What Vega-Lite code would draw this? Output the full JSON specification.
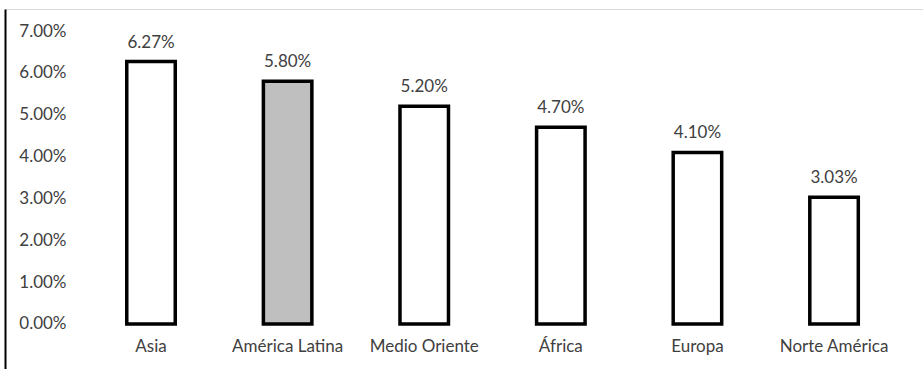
{
  "$schema": "https://vega.github.io/schema/vega-lite/v6.json",
  "width": 918,
  "height": 360,
  "autosize": {"type": "none"},
  "padding": {"left": 5, "top": 9, "right": 0, "bottom": 0},
  "background": "white",
  "config": {
    "view": {"stroke": null},
    "font": "Lato",
    "axis": {"labelFont": "Lato", "labelColor": "#404040", "labelFontSize": 17, "grid": false, "ticks": false, "title": null}
  },
  "data": {
    "values": [
      {"region": "Asia", "value": 0.0627},
      {"region": "América Latina", "value": 0.058},
      {"region": "Medio Oriente", "value": 0.052},
      {"region": "África", "value": 0.047},
      {"region": "Europa", "value": 0.041},
      {"region": "Norte América", "value": 0.0303}
    ]
  },
  "encoding": {
    "x": {
      "field": "region",
      "type": "nominal",
      "sort": null,
      "scale": {"paddingInner": 0.645, "paddingOuter": 0.6825, "align": 0.653}
    },
    "y": {
      "field": "value",
      "type": "quantitative",
      "scale": {"domain": [-0.010751, 0.075256], "nice": false, "zero": false}
    }
  },
  "layer": [
    {
      "mark": {"type": "bar", "stroke": "black", "strokeWidth": 3.5},
      "encoding": {
        "fill": {
          "condition": {"test": "datum.region === 'América Latina'", "value": "#bfbfbf"},
          "value": "white"
        },
        "x": {
          "field": "region", "type": "nominal", "sort": null,
          "axis": {"orient": "bottom", "domain": false, "offset": -45, "labelPadding": 14, "labelAngle": 0}
        },
        "y": {
          "field": "value", "type": "quantitative",
          "axis": {
            "values": [0, 0.01, 0.02, 0.03, 0.04, 0.05, 0.06, 0.07],
            "format": ".2%",
            "domain": true,
            "domainColor": "black",
            "domainWidth": 2,
            "labelPadding": -61,
            "labelAlign": "right"
          }
        }
      }
    },
    {
      "mark": {"type": "text", "dy": -14, "baseline": "alphabetic", "fontSize": 17, "color": "#404040", "font": "Lato"},
      "encoding": {
        "text": {"field": "value", "type": "quantitative", "format": ".2%"},
        "x": {
          "field": "region", "type": "nominal", "sort": null,
          "axis": {"orient": "top", "domain": true, "domainColor": "#d9d9d9", "domainWidth": 1, "labels": false}
        }
      }
    }
  ],
  "resolve": {"axis": {"x": "independent"}}
}
